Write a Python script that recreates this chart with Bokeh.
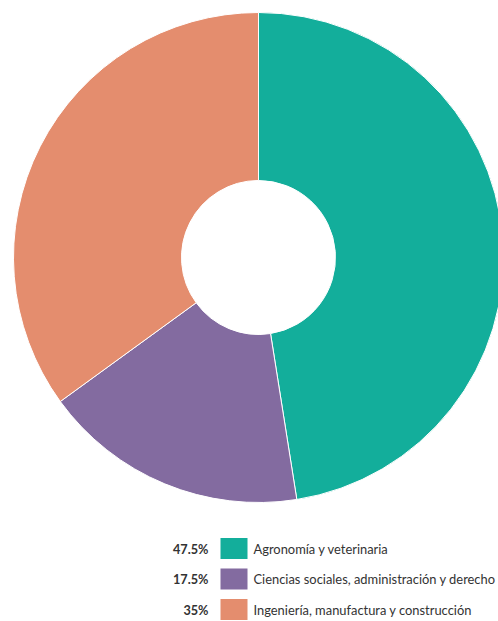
import numpy as np
from bokeh.plotting import figure
from bokeh.models import Range1d, ColumnDataSource
from bokeh.core.properties import value
from bokeh.embed import file_html
from bokeh.resources import INLINE

categories = ["Agronomía y veterinaria",
              "Ciencias sociales, administración y derecho",
              "Ingeniería, manufactura y construcción"]
values = [47.5, 17.5, 35]
colors = ["#13AE9B", "#836BA0", "#E48D6E"]
pct_labels = ["47.5%", "17.5%", "35%"]

W, H = 498, 621
p = figure(width=W, height=H, output_backend="svg", toolbar_location=None,
           x_range=Range1d(0, W), y_range=Range1d(0, H),
           min_border=0)
p.axis.visible = False
p.grid.visible = False
p.outline_line_color = None
p.background_fill_color = "white"

def py(y):  # page y -> data y
    return H - y

cx, cy = 258, py(257)
R_out, R_in = 245, 77

frac = np.array(values) / sum(values)
ends = np.cumsum(frac) * 2 * np.pi
starts = ends - frac * 2 * np.pi
src = ColumnDataSource(dict(
    start=np.pi / 2 - starts, end=np.pi / 2 - ends, color=colors))
p.annular_wedge(x=cx, y=cy, inner_radius=R_in, outer_radius=R_out,
                start_angle="start", end_angle="end", direction="clock",
                fill_color="color", line_color="white", line_width=1,
                source=src)

row_y = [py(548), py(578.5), py(609)]
lsrc = ColumnDataSource(dict(y=row_y, color=colors, pct=pct_labels, name=categories))
p.rect(x=233.5, y="y", width=27, height=21, fill_color="color", line_color=None, source=lsrc)
p.text(x=208, y="y", text="pct", text_align="right", text_baseline="middle",
       text_font=value("Lato"), text_font_style="bold", text_font_size="12.7px",
       text_color="#333333", source=lsrc)
p.text(x=253, y="y", text="name", text_align="left", text_baseline="middle",
       text_font=value("Lato"), text_font_size="12.9px",
       text_color="#333333", source=lsrc)

open("out.html", "w").write(file_html(p, INLINE))
